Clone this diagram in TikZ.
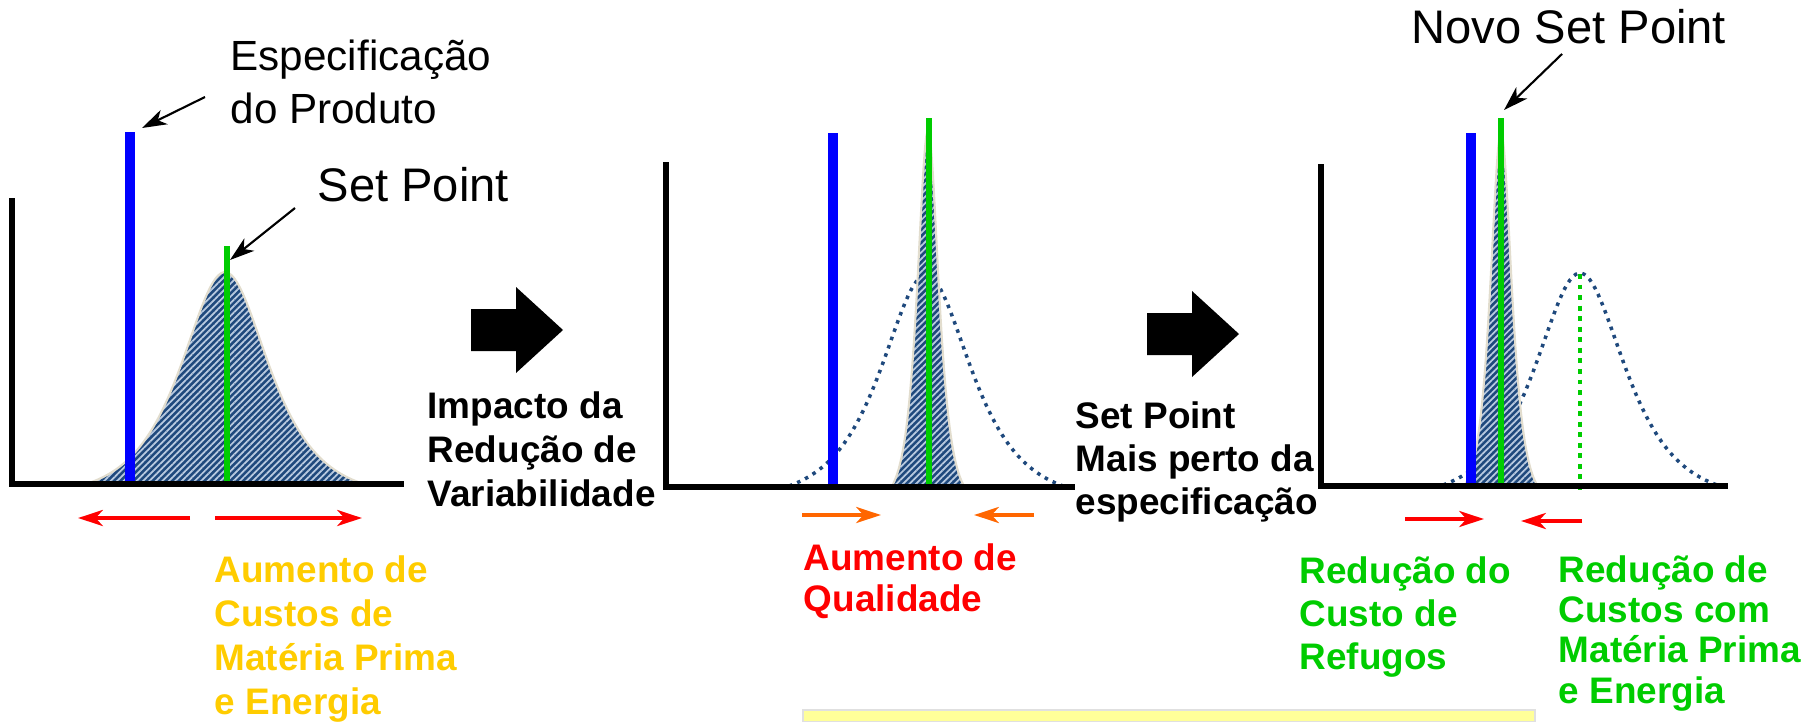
\documentclass[tikz,border=0pt]{standalone}
\usepackage{fontspec}
\setmainfont{Liberation Sans}
\usetikzlibrary{arrows.meta,patterns.meta}

\definecolor{hatchblue}{RGB}{31,73,125}
\definecolor{stripeblue}{RGB}{185,202,224}
\definecolor{edgebeige}{RGB}{226,221,206}
\definecolor{specblue}{RGB}{0,0,255}
\definecolor{setgreen}{RGB}{0,204,0}
\definecolor{costyellow}{RGB}{255,204,0}
\definecolor{qualorange}{RGB}{255,102,0}
\definecolor{notepad}{RGB}{255,255,153}

\begin{document}
\begin{tikzpicture}[x=0.01cm,y=-0.01cm,
  declare function={bell(\d,\b,\e)=(1/cosh(\d/\b)-1/cosh(\e/\b))/(1-1/cosh(\e/\b));},
  axis_line/.style={line width=1.45pt},
  spec_line/.style={specblue,line width=0.1cm},
  set_line/.style={setgreen,line width=0.06cm},
  bell_fill/.style={draw=edgebeige,line width=0.6pt,preaction={fill=hatchblue},
    pattern={Lines[angle=45,distance=1.3pt,line width=0.5pt]},pattern color=stripeblue},
  old_curve/.style={hatchblue,line width=1pt,dash pattern=on 1pt off 1.5pt},
  note_arrow/.style={-{Stealth[length=7pt,width=4.5pt,inset=2pt]},line width=0.6pt},
  cost_arrow/.style={-{Stealth[length=7pt,width=4.5pt,inset=2pt]},line width=1.3pt},
  big_lbl/.style={anchor=base west,inner sep=0pt,align=left,font=\fontsize{13.4}{15}\selectfont},
  bold_note/.style={anchor=base west,inner sep=0pt,align=left,font=\bfseries\fontsize{10.5}{12.5}\selectfont}]

  \useasboundingbox (0,0) rectangle (1819,721);

  % painel 1: processo atual
  \filldraw[bell_fill] plot[domain=89:361,samples=100]
    (\x,{483-211*bell(\x-225,39,136)}) -- cycle;
  \draw[spec_line] (130,132) -- (130,484);
  \draw[set_line] (227,246) -- (227,484);
  \draw[axis_line] (12,198) -- (12,484) -- (404,484);

  % painel 2: menor variabilidade
  \draw[old_curve] plot[domain=789:1063,samples=100]
    (\x,{486-211*bell(\x-926,40,137)});
  \filldraw[bell_fill] plot[domain=892:964,samples=60]
    (\x,{486-356*bell(\x-928,9.5,36)}) -- cycle;
  \draw[spec_line] (833,133) -- (833,487);
  \draw[set_line] (929,118) -- (929,487);
  \draw[axis_line] (666,162) -- (666,487) -- (1075,487);

  % painel 3: novo set point
  \draw[old_curve] plot[domain=1443:1717,samples=100]
    (\x,{485-212*bell(\x-1580,40,137)});
  \draw[setgreen,line width=1.3pt,dash pattern=on 1.4pt off 1.6pt] (1580,274) -- (1580,491);
  \filldraw[bell_fill] plot[domain=1465:1537,samples=60]
    (\x,{485-353*bell(\x-1501,9.5,36)}) -- cycle;
  \draw[spec_line] (1471,133) -- (1471,486);
  \draw[set_line] (1501,118) -- (1501,486);
  \draw[axis_line] (1321,164) -- (1321,486) -- (1728,486);

  % setas de bloco
  \foreach \bx/\by in {471/330,1147/334}
    \fill (\bx,\by-21) -- (\bx+45,\by-21) -- (\bx+45,\by-43) -- (\bx+92,\by)
      -- (\bx+45,\by+43) -- (\bx+45,\by+21) -- (\bx,\by+21) -- cycle;

  % textos (base = ultima linha)
  \node[big_lbl,font=\fontsize{12}{14.8}\selectfont] (spec_lbl) at (230,123) {Especificação\\do Produto};
  \node[big_lbl] (set_lbl) at (317,201) {Set Point};
  \node[big_lbl] (novo_lbl) at (1411,44) {Novo Set Point};

  \node[bold_note] (impact_lbl) at (427,506) {Impacto da\\Redução de\\Variabilidade};
  \node[bold_note,costyellow] (cost_lbl) at (214,714) {Aumento de\\Custos de\\Matéria Prima\\e Energia};
  \node[bold_note,red,font=\bfseries\fontsize{10.5}{11.4}\selectfont] (qual_lbl) at (803,611) {Aumento de\\Qualidade};
  \node[bold_note,font=\bfseries\fontsize{10.5}{12.2}\selectfont] (near_lbl) at (1075,514) {Set Point\\Mais perto da\\especificação};
  \node[bold_note,setgreen,font=\bfseries\fontsize{10.5}{12.2}\selectfont] (scrap_lbl) at (1299,669) {Redução do\\Custo de\\Refugos};
  \node[bold_note,setgreen,font=\bfseries\fontsize{10.5}{11.4}\selectfont] (raw_lbl) at (1558,703) {Redução de\\Custos com\\Matéria Prima\\e Energia};

  \coordinate (spec_from) at (205,97);   \coordinate (spec_to) at (142,128);
  \coordinate (set_from) at (295,208);   \coordinate (set_to) at (230,260);
  \coordinate (novo_from) at (1562,54);  \coordinate (novo_to) at (1504,110);
  \path[note_arrow]
    (spec_from) edge (spec_to)
    (set_from) edge (set_to)
    (novo_from) edge (novo_to);

  \coordinate (a1) at (190,518);  \coordinate (b1) at (78,518);
  \coordinate (a2) at (215,518);  \coordinate (b2) at (362,518);
  \coordinate (a3) at (802,515);  \coordinate (b3) at (881,515);
  \coordinate (a4) at (1034,515); \coordinate (b4) at (974,515);
  \coordinate (a5) at (1405,519); \coordinate (b5) at (1484,519);
  \coordinate (a6) at (1582,521); \coordinate (b6) at (1521,521);
  \path[cost_arrow,red]
    (a1) edge (b1)
    (a2) edge (b2)
    (a5) edge (b5)
    (a6) edge (b6);
  \path[cost_arrow,qualorange]
    (a3) edge (b3)
    (a4) edge (b4);

  \filldraw[fill=notepad,draw=black!12,line width=0.5pt] (803,710) rectangle (1535,722);
\end{tikzpicture}
\end{document}
